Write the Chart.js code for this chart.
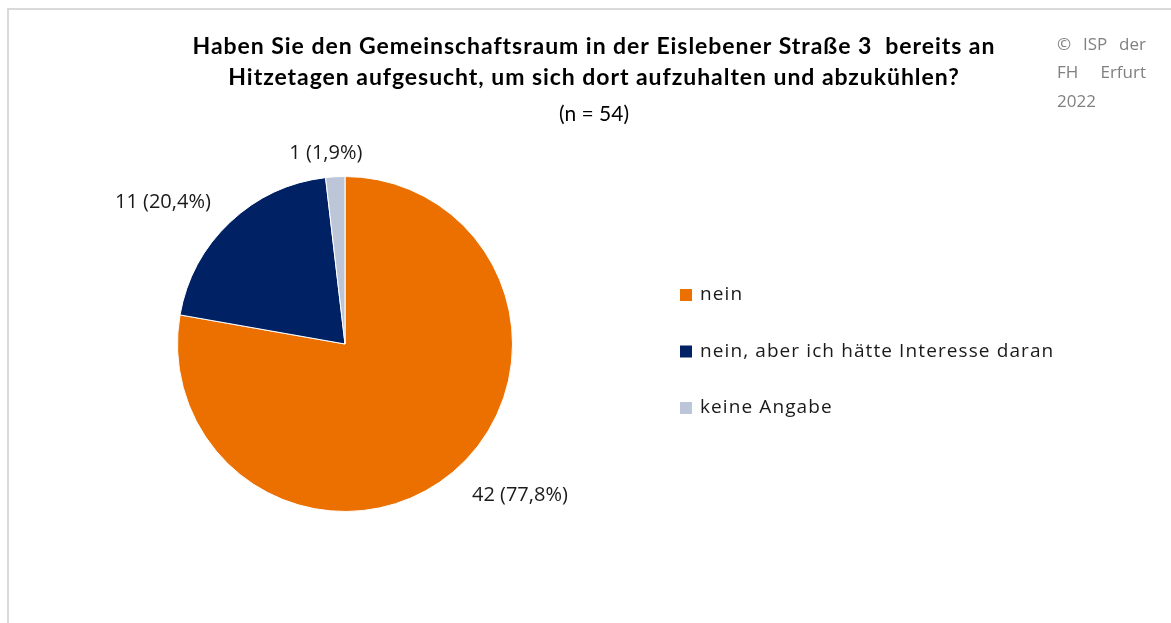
<!DOCTYPE html>
<html><head><meta charset="utf-8">
<script src="https://cdn.jsdelivr.net/npm/chart.js@4/dist/chart.umd.min.js"></script>
<style>html,body{margin:0;padding:0;background:#fff}#wrap{width:1171px;height:623px;position:relative}</style>
</head><body><div id="wrap"><canvas id="c" width="1171" height="623"></canvas></div>
<script>
const categories = ["nein", "nein, aber ich hätte Interesse daran", "keine Angabe"];
const counts = [42, 11, 1];
const percentLabels = ["77,8%", "20,4%", "1,9%"];
const colors = ["#EC7000", "#002264", "#BCC6D8"];
const titleLines = ["Haben Sie den Gemeinschaftsraum in der Eislebener Straße 3  bereits an", "Hitzetagen aufgesucht, um sich dort aufzuhalten und abzukühlen?"];
const subtitleText = "(n = 54)";
const copyrightLines = [["©", "ISP", "der"], ["FH", "Erfurt"], ["2022"]];

const deco = {
  id: 'deco',
  beforeDraw(chart) {
    const ctx = chart.ctx;
    ctx.save();
    ctx.fillStyle = '#fff';
    ctx.fillRect(0, 0, chart.width, chart.height);
    ctx.strokeStyle = '#d9d9d9';
    ctx.lineWidth = 2;
    ctx.beginPath();
    ctx.moveTo(8, chart.height); ctx.lineTo(8, 9); ctx.lineTo(chart.width, 9);
    ctx.stroke();
    ctx.restore();
  },
  afterDraw(chart) {
    const ctx = chart.ctx;
    ctx.save();
    // title
    ctx.fillStyle = '#000';
    ctx.textAlign = 'center';
    ctx.textBaseline = 'middle';
    ctx.font = 'bold 23px Lato';
    const w = ctx.measureText(titleLines[0]).width;
    const ls = Math.max(0, (802 - w) / titleLines[0].length);
    ctx.letterSpacing = ls.toFixed(2) + 'px';
    ctx.fillText(titleLines[0], 594, 47);
    ctx.fillText(titleLines[1], 594, 78);
    ctx.letterSpacing = '0px';
    ctx.font = '21px Lato';
    ctx.fillText(subtitleText, 594, 114);
    // copyright (justified)
    ctx.fillStyle = '#808080';
    ctx.font = '17px "Open Sans"';
    ctx.textAlign = 'left';
    const x0 = 1057, x1 = 1146;
    copyrightLines.forEach((words, i) => {
      const y = 45 + i * 28.5;
      if (words.length === 1) { ctx.fillText(words[0], x0, y); return; }
      const tot = words.reduce((s, wd) => s + ctx.measureText(wd).width, 0);
      const gap = (x1 - x0 - tot) / (words.length - 1);
      let x = x0;
      words.forEach(wd => { ctx.fillText(wd, x, y); x += ctx.measureText(wd).width + gap; });
    });
    // legend
    ctx.font = '19px "Open Sans"';
    ctx.letterSpacing = '1.1px';
    categories.forEach((cat, i) => {
      const y = 295 + i * 56.5;
      ctx.fillStyle = colors[i];
      ctx.fillRect(680, y - 6, 12, 12);
      ctx.fillStyle = '#1a1a1a';
      ctx.fillText(cat, 700, y);
    });
    ctx.letterSpacing = '0px';
    // data labels
    const meta = chart.getDatasetMeta(0);
    ctx.font = '20px "Open Sans"';
    ctx.fillStyle = '#1a1a1a';
    const offs = [30, 28, 24];
    meta.data.forEach((arc, i) => {
      const p = arc.getProps(['x', 'y', 'startAngle', 'endAngle', 'outerRadius'], true);
      const mid = (p.startAngle + p.endAngle) / 2;
      const r = p.outerRadius + offs[i];
      const lx = p.x + Math.cos(mid) * r;
      const ly = p.y + Math.sin(mid) * r;
      const c = Math.cos(mid);
      ctx.textAlign = Math.abs(c) < 0.2 ? 'center' : (c > 0 ? 'left' : 'right');
      const txt = `${counts[i]} (${percentLabels[i]})`;
      ctx.fillText(txt, Math.abs(c) < 0.2 ? lx - 8 : lx, ly);
    });
    ctx.restore();
  }
};

new Chart(document.getElementById('c'), {
  type: 'pie',
  data: {
    labels: categories,
    datasets: [{ data: counts, backgroundColor: colors, borderColor: '#fff', borderWidth: 1 }]
  },
  options: {
    responsive: false,
    animation: false,
    layout: { padding: { left: 177, right: 658, top: 176, bottom: 111 } },
    plugins: { legend: { display: false }, title: { display: false }, tooltip: { enabled: false } }
  },
  plugins: [deco]
});
</script>
</body></html>
